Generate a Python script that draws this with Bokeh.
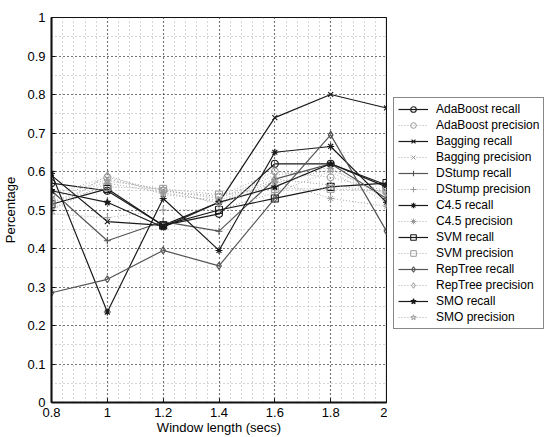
from bokeh.plotting import figure
from bokeh.layouts import row
from bokeh.models import Range1d, FixedTicker, Legend, LegendItem
from bokeh.embed import file_html
from bokeh.resources import INLINE

window = [0.8, 1.0, 1.2, 1.4, 1.6, 1.8, 2.0]

adaboost_recall = [0.57, 0.55, 0.46, 0.49, 0.62, 0.62, 0.56]
adaboost_precision = [0.54, 0.585, 0.55, 0.535, 0.60, 0.585, 0.55]
bagging_recall = [0.59, 0.47, 0.46, 0.52, 0.74, 0.80, 0.765]
bagging_precision = [0.53, 0.58, 0.55, 0.53, 0.59, 0.61, 0.53]
dstump_recall = [0.55, 0.42, 0.47, 0.445, 0.58, 0.62, 0.53]
dstump_precision = [0.49, 0.48, 0.50, 0.50, 0.545, 0.60, 0.52]
c45_recall = [0.595, 0.235, 0.53, 0.395, 0.65, 0.665, 0.52]
c45_precision = [0.50, 0.57, 0.545, 0.52, 0.575, 0.53, 0.51]
svm_recall = [0.515, 0.555, 0.46, 0.50, 0.53, 0.56, 0.57]
svm_precision = [0.52, 0.56, 0.555, 0.54, 0.555, 0.555, 0.55]
reptree_recall = [0.285, 0.32, 0.395, 0.355, 0.53, 0.695, 0.445]
reptree_precision = [0.50, 0.59, 0.54, 0.525, 0.58, 0.565, 0.545]
smo_recall = [0.55, 0.52, 0.455, 0.52, 0.56, 0.62, 0.565]
smo_precision = [0.52, 0.575, 0.555, 0.515, 0.57, 0.605, 0.54]

x_ticks = [0.8, 1.0, 1.2, 1.4, 1.6, 1.8, 2.0]
x_tick_labels = ["0.8", "1", "1.2", "1.4", "1.6", "1.8", "2"]
y_ticks = [0.0, 0.1, 0.2, 0.3, 0.4, 0.5, 0.6, 0.7, 0.8, 0.9, 1.0]
y_tick_labels = ["0", "0.1", "0.2", "0.3", "0.4", "0.5", "0.6", "0.7", "0.8", "0.9", "1"]

series = [
    ("AdaBoost recall", adaboost_recall, "circle", True),
    ("AdaBoost precision", adaboost_precision, "circle", False),
    ("Bagging recall", bagging_recall, "x", True),
    ("Bagging precision", bagging_precision, "x", False),
    ("DStump recall", dstump_recall, "cross", True),
    ("DStump precision", dstump_precision, "cross", False),
    ("C4.5 recall", c45_recall, "asterisk", True),
    ("C4.5 precision", c45_precision, "asterisk", False),
    ("SVM recall", svm_recall, "square", True),
    ("SVM precision", svm_precision, "square", False),
    ("RepTree recall", reptree_recall, "diamond", True),
    ("RepTree precision", reptree_precision, "diamond", False),
    ("SMO recall", smo_recall, "star", True),
    ("SMO precision", smo_precision, "star", False),
]

FONT = "Liberation Sans"

p = figure(width=387, height=437, output_backend="svg", toolbar_location=None,
           x_range=Range1d(0.8, 2.0), y_range=Range1d(0, 1),
           min_border_left=48, min_border_right=1, min_border_top=17, min_border_bottom=30)
p.background_fill_color = "white"
p.border_fill_color = "white"
p.outline_line_color = "#111111"
p.outline_line_width = 1.2

x_minor = [round(0.8 + 0.04 * i, 3) for i in range(31)]
y_minor = [round(0.05 * i, 3) for i in range(21)]
p.xaxis.ticker = FixedTicker(ticks=x_ticks, minor_ticks=x_minor)
p.yaxis.ticker = FixedTicker(ticks=y_ticks, minor_ticks=y_minor)
p.xaxis.major_label_overrides = {v: s for v, s in zip(x_ticks, x_tick_labels)}
p.yaxis.major_label_overrides = {v: s for v, s in zip(y_ticks, y_tick_labels)}

for ax in (p.xaxis, p.yaxis):
    ax.axis_line_color = "#111111"
    ax.axis_line_width = 2
    ax.major_tick_in = 4
    ax.major_tick_out = 0
    ax.minor_tick_in = 0
    ax.minor_tick_out = 0
    ax.major_tick_line_color = "#111111"
    ax.major_label_text_font = FONT
    ax.major_label_text_font_size = "13px"
    ax.major_label_text_color = "black"
    ax.axis_label_text_font = FONT
    ax.axis_label_text_font_size = "13px"
    ax.axis_label_text_font_style = "normal"
    ax.axis_label_text_color = "black"

p.xaxis.axis_label = "Window length (secs)"
p.yaxis.axis_label = "Percentage"
p.xaxis.major_label_standoff = 5
p.xaxis.axis_label_standoff = 0
p.yaxis.major_label_standoff = 6
p.yaxis.axis_label_standoff = 6

for g in (p.xgrid, p.ygrid):
    g.grid_line_color = "#000000"
    g.grid_line_dash = "1 3"
    g.grid_line_width = 1.2
    g.grid_line_alpha = 0.9
    g.minor_grid_line_color = "#999999"
    g.minor_grid_line_dash = "1 3"
    g.minor_grid_line_width = 0.8

# separate panel that only carries the legend (its ranges keep the data out of view)
lp = figure(width=162, height=437, output_backend="svg", toolbar_location=None,
            x_axis_type=None, y_axis_type=None, x_range=Range1d(10, 11), y_range=Range1d(10, 11),
            min_border=0, outline_line_color=None)
lp.grid.visible = False
lp.background_fill_color = "white"
lp.border_fill_color = "white"

items = []
for name, vals, marker, is_recall in series:
    if is_recall:
        lc = "#555555" if name in ("DStump recall", "RepTree recall") else "#1a1a1a"
        fill = marker in ("asterisk", "star")
        line_kw = dict(line_color=lc, line_width=1.2)
        sc_kw = dict(marker=marker, size=7, line_color=lc, line_width=1.1,
                     fill_color=lc, fill_alpha=(1.0 if fill else 0.0))
    else:
        line_kw = dict(line_color="#aaaaaa", line_width=1.0, line_dash="1 2")
        sc_kw = dict(marker=marker, size=7, line_color="#999999", line_width=1.0,
                     fill_color="white", fill_alpha=0.0)
    p.line(window, vals, **line_kw)
    p.scatter(window, vals, **sc_kw)
    ll = lp.line(window, vals, **line_kw)
    ls = lp.scatter(window, vals, **sc_kw)
    items.append(LegendItem(label=name, renderers=[ll, ls]))

legend = Legend(items=items, location=(6, 73))
legend.label_text_font = FONT
legend.label_text_font_size = "12px"
legend.label_text_color = "black"
legend.label_height = 14
legend.glyph_height = 14
legend.glyph_width = 30
legend.spacing = 2
legend.padding = 4
legend.margin = 0
legend.label_standoff = 8
legend.border_line_color = "#111111"
legend.border_line_width = 1.5
legend.background_fill_color = "white"
legend.background_fill_alpha = 1.0
lp.add_layout(legend, "center")

layout = row(p, lp)
open("out.html", "w").write(file_html(layout, INLINE))
